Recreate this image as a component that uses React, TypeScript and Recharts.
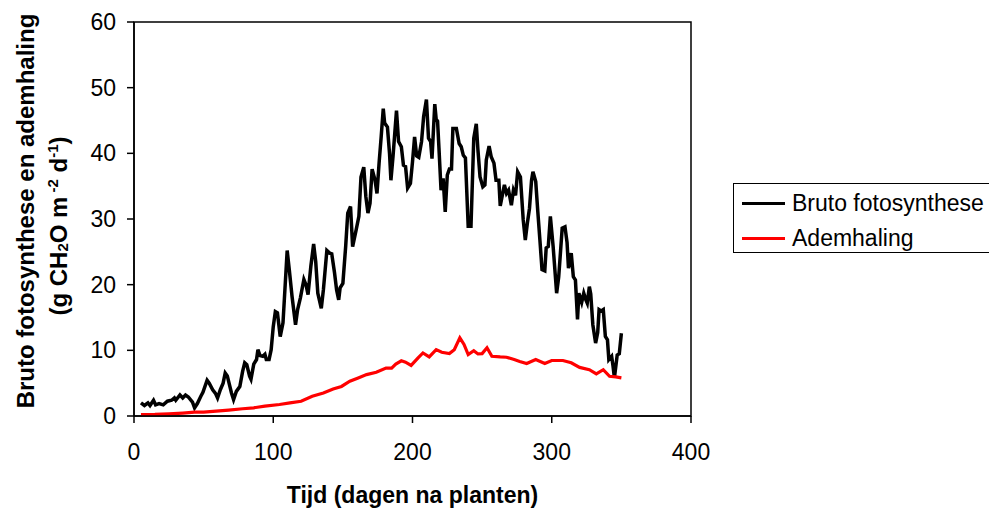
import { LineChart, Line, XAxis, YAxis, Legend, ReferenceArea, Label } from 'recharts';

const FONT = '"Liberation Sans", Arial, sans-serif';

// Bruto fotosynthese (g CH2O m-2 d-1)
const brutoDays = [
  5, 7.5, 10, 11.5, 14, 15.5, 18, 21, 24, 27, 29, 30, 33, 35, 37, 39, 42, 43.5, 45.5, 48,
  49.5, 52.5, 54, 56.5, 58.5, 60, 62, 64, 65.5, 67, 70, 71.5, 73.5, 76, 78, 79.5, 81, 83, 84, 86,
  88, 89, 90.5, 92.5, 94, 95, 97, 98.5, 100, 101.5, 103, 105, 107, 110, 111.5, 113.5, 116, 117.5, 119.5, 122,
  123.5, 125, 127, 129, 130.5, 132, 134.5, 136, 138.5, 140.5, 142, 144, 145.5, 147, 148, 150, 152, 153.5, 155.5, 157,
  159.5, 161.5, 163, 165, 166.5, 168, 169.5, 171, 173, 174.5, 176, 177.5, 179, 180, 182, 183.5, 184.5, 186, 188.5, 190,
  192, 193.5, 195, 196.5, 198.5, 200, 201.5, 203, 204.5, 206.5, 208, 210, 211.5, 213, 214, 216, 217, 218, 219, 220.5,
  222, 223.5, 225, 226.5, 228, 229, 231.5, 233.5, 235, 236.5, 238, 240, 242, 244, 245.8, 247, 248.5, 250.5, 252, 253,
  255, 256.5, 258.5, 260, 262, 263, 264.5, 266, 267.5, 269, 271, 272.5, 274, 275.5, 277.5, 279.5, 281, 282.5, 284, 285.5,
  286.5, 288.5, 290, 291.5, 293, 295, 296, 297.5, 299, 301, 303.5, 305, 307.5, 309.5, 311, 312, 314, 315.5, 317, 318.5,
  319.5, 321.5, 323, 324.5, 325.5, 327, 328, 329.5, 331.5, 333, 334, 335.5, 337, 338.5, 340, 341, 343, 344, 345, 347,
  348.5, 350,
];
const brutoValues = [
  2.0, 1.6, 2.0, 1.6, 2.4, 1.7, 1.9, 1.7, 2.25, 2.4, 2.75, 2.4, 3.2, 2.75, 3.2, 2.9, 2.1, 1.25, 1.9, 3.0,
  3.6, 5.45, 5.0, 4.0, 3.45, 2.75, 4.0, 5.0, 6.55, 6.1, 3.5, 2.5, 3.75, 4.5, 6.8, 8.1, 7.8, 6.05, 5.6, 7.9,
  8.6, 10.1, 9.2, 9.1, 9.4, 8.6, 8.6, 10.1, 13.6, 15.9, 15.7, 12.1, 14.2, 25.2, 22.3, 18.2, 13.9, 16.2, 18.0, 20.8,
  20.0, 18.5, 22.8, 26.2, 23.5, 18.7, 16.4, 19.2, 25.2, 24.8, 24.7, 21.8, 19.2, 17.7, 19.5, 20.2, 25.8, 30.9, 31.9, 25.8,
  28.3, 30.4, 36.4, 37.9, 33.4, 30.9, 32.4, 37.6, 36.0, 33.9, 38.5, 42.5, 46.8, 44.6, 44.0, 40.0, 35.9, 39.5, 46.5, 41.8,
  41.0, 38.2, 38.0, 34.7, 35.4, 38.7, 42.5, 39.6, 39.4, 41.8, 45.6, 48.2, 42.3, 41.8, 39.2, 47.5, 45.2, 44.9, 40.8, 34.4,
  36.2, 31.1, 36.7, 37.6, 37.6, 43.8, 43.8, 41.5, 41.0, 39.7, 39.3, 28.9, 28.9, 42.3, 44.5, 40.5, 36.4, 34.9, 35.2, 39.0,
  41.1, 39.5, 38.5, 35.9, 35.9, 32.0, 33.6, 35.2, 33.9, 34.4, 32.1, 34.4, 33.6, 37.2, 36.4, 29.9, 26.8, 29.4, 31.6, 35.9,
  37.2, 35.7, 31.1, 26.8, 22.3, 22.1, 25.6, 25.8, 30.4, 25.8, 18.7, 21.2, 28.6, 28.8, 26.4, 22.5, 24.8, 21.2, 20.7, 14.7,
  18.7, 17.3, 18.7, 17.7, 17.2, 19.7, 18.6, 13.9, 11.1, 12.7, 16.2, 16.0, 16.2, 12.1, 11.6, 8.6, 9.1, 7.6, 5.8, 9.3,
  9.5, 12.6,
];

// Ademhaling
const ademDays = [
  5, 15, 25, 35, 43.5, 50, 59, 68, 78, 86, 94, 104.5, 112, 120, 128, 136, 143, 149, 155, 161,
  167, 174, 181, 185, 188, 192, 195, 199, 204, 207.5, 212, 217, 221, 226.5, 230, 234, 237, 240, 244, 247,
  250, 253.5, 257, 263, 267.5, 273, 277, 282, 288.5, 295, 300, 308, 314, 320, 327, 332, 337, 341.5, 346, 350,
];
const ademValues = [
  0.23, 0.25, 0.33, 0.45, 0.58, 0.6, 0.73, 0.9, 1.1, 1.25, 1.5, 1.75, 2.0, 2.25, 3.0, 3.5, 4.1, 4.5, 5.3, 5.8,
  6.3, 6.65, 7.3, 7.3, 7.9, 8.4, 8.2, 7.7, 8.85, 9.6, 9.0, 10.1, 9.7, 9.5, 10.1, 11.9, 10.9, 9.35, 9.95, 9.45,
  9.5, 10.4, 9.1, 9.0, 8.95, 8.6, 8.3, 8.0, 8.6, 8.0, 8.45, 8.45, 8.1, 7.4, 7.05, 6.4, 7.05, 6.05, 5.95, 5.8,
];

const seriesNames = ['Bruto fotosynthese', 'Ademhaling'];
const xTicks = [0, 100, 200, 300, 400];
const yTicks = [0, 10, 20, 30, 40, 50, 60];

const brutoData = brutoDays.map((day, i) => ({ day, value: brutoValues[i] }));
const ademData = ademDays.map((day, i) => ({ day, value: ademValues[i] }));

const YTitle = () => (
  <g fontFamily={FONT} fontWeight="bold" fontSize={24} fill="#000">
    <text transform="translate(33.5,211) rotate(-90)" textAnchor="middle">
      Bruto fotosynthese en ademhaling
    </text>
    <text transform="translate(67,226) rotate(-90)" textAnchor="middle">
      (g CH<tspan fontSize={15} dy={1}>2</tspan>
      <tspan dy={-1}>O m</tspan>
      <tspan fontSize={15} dy={-9}> -2</tspan>
      <tspan dy={9}>  d</tspan>
      <tspan fontSize={15} dy={-9}>-1</tspan>
      <tspan dy={9}>)</tspan>
    </text>
  </g>
);

const XTitle = () => (
  <text x={412.5} y={503} textAnchor="middle" fontFamily={FONT} fontWeight="bold" fontSize={23} fill="#000">
    Tijd (dagen na planten)
  </text>
);

const LegendBox = ({ payload }: any) => {
  const items = seriesNames
    .map((n) => (payload || []).find((p: any) => p.value === n))
    .filter(Boolean);
  return (
    <div
      style={{
        width: 262,
        height: 70,
        border: '1px solid #000',
        boxSizing: 'border-box',
        fontFamily: FONT,
        fontSize: 23,
        color: '#000',
        paddingTop: 4,
      }}
    >
      {items.map((entry: any) => (
        <div key={entry.value} style={{ display: 'flex', alignItems: 'center', height: 30, marginBottom: 5 }}>
          <span style={{ display: 'inline-block', width: 43, height: 3, background: entry.color, marginLeft: 8, marginRight: 7 }} />
          <span style={{ whiteSpace: 'nowrap' }}>{entry.value}</span>
        </div>
      ))}
    </div>
  );
};

export default function App() {
  return (
    <div style={{ width: 989, height: 511, overflow: 'hidden', background: '#fff' }}>
      <style>{'body{margin:0}'}</style>
      <LineChart width={989} height={511} margin={{ top: 22, right: 298, bottom: 0, left: 0 }}>
        <XAxis
          dataKey="day"
          type="number"
          domain={[0, 400]}
          ticks={xTicks}
          height={95}
          tickSize={7}
          tickMargin={21}
          stroke="#000"
          strokeWidth={1.5}
          tick={{ fill: '#000', fontSize: 23, fontFamily: FONT }}
          allowDataOverflow
        >
          <Label content={<XTitle />} />
        </XAxis>
        <YAxis
          type="number"
          domain={[0, 60]}
          ticks={yTicks}
          width={134}
          tickSize={7}
          tickMargin={11}
          stroke="#000"
          strokeWidth={1.5}
          tick={{ fill: '#000', fontSize: 23, fontFamily: FONT }}
        >
          <Label content={<YTitle />} />
        </YAxis>
        <ReferenceArea x1={0} x2={400} y1={0} y2={60} fill="none" stroke="#000" strokeWidth={1.5} />
        <Line
          data={brutoData}
          dataKey="value"
          name="Bruto fotosynthese"
          type="linear"
          stroke="#000"
          strokeWidth={3.5}
          dot={false}
          activeDot={false}
          isAnimationActive={false}
        />
        <Line
          data={ademData}
          dataKey="value"
          name="Ademhaling"
          type="linear"
          stroke="#ff0000"
          strokeWidth={3.2}
          dot={false}
          activeDot={false}
          isAnimationActive={false}
        />
        <Legend
          layout="vertical"
          align="center"
          verticalAlign="middle"
          wrapperStyle={{ left: 733, top: 183, width: 262 }}
          content={<LegendBox />}
        />
      </LineChart>
    </div>
  );
}
